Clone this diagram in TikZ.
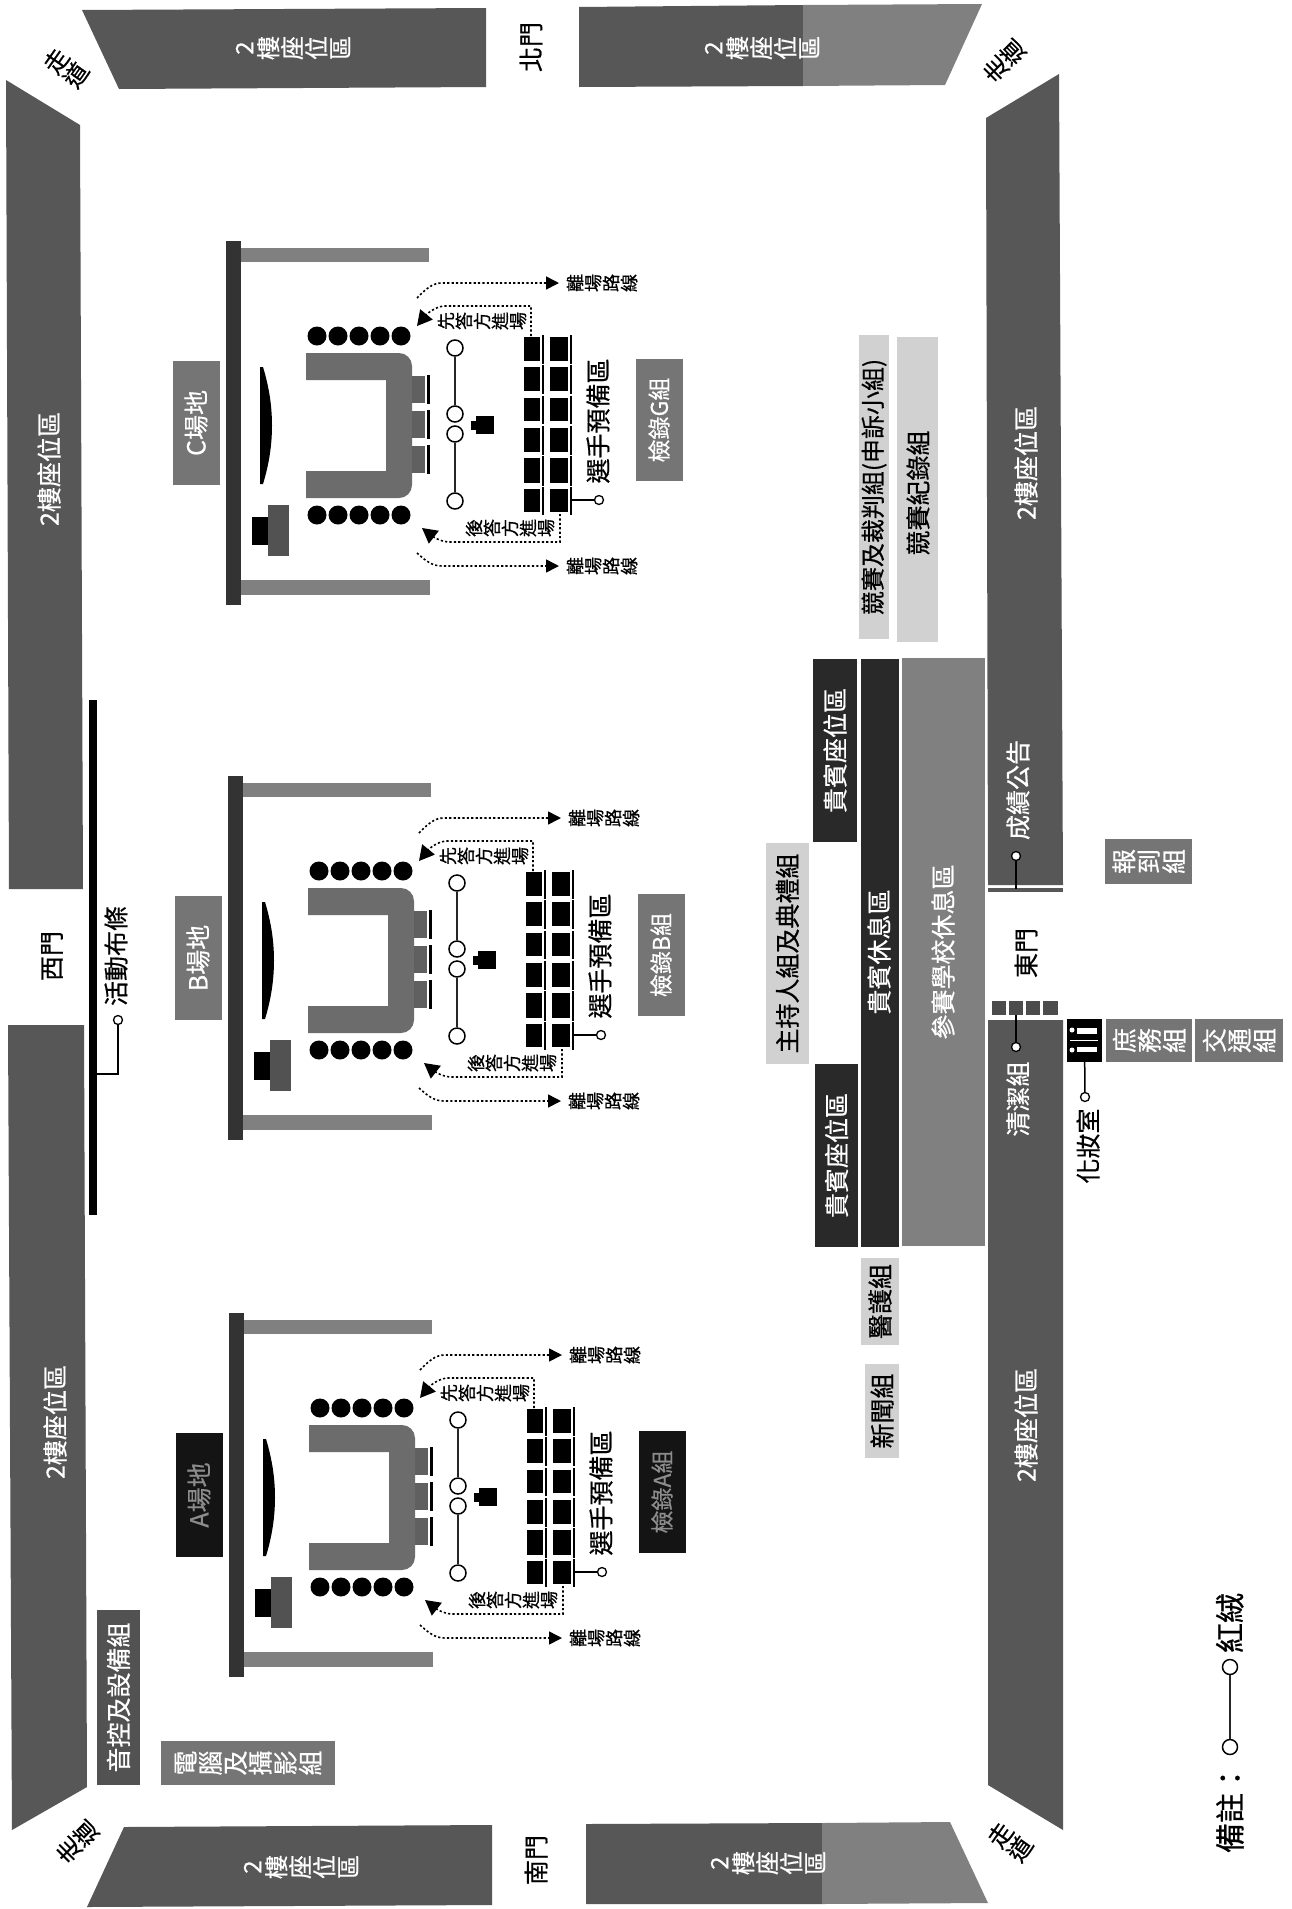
\documentclass[tikz,border=0pt]{standalone}
\usepackage{fontspec}
\usetikzlibrary{arrows.meta}
\newfontfamily\cjk[FakeBold=0.5]{Noto Sans CJK TC}
\newcommand\fs[1]{\cjk\fontsize{#1}{#1}\selectfont}
\definecolor{banddark}{gray}{0.34}
\definecolor{bandlight}{gray}{0.50}
\definecolor{midgray}{gray}{0.46}
\definecolor{armgray}{gray}{0.50}
\definecolor{vipdark}{gray}{0.16}
\definecolor{paleb}{gray}{0.82}
\tikzset{
  txt/.style={rotate=90,inner sep=0pt,align=center,font=\fs{25}},
  wtxt/.style={txt,text=white},
  ring/.style={circle,draw=black,fill=white,line width=1.5pt,inner sep=0pt,minimum size=16pt},
  dotring/.style={circle,draw=black,fill=white,line width=1.3pt,inner sep=0pt,minimum size=9pt},
  stud/.style={circle,fill=black,inner sep=0pt,minimum size=19pt},
  sashline/.style={line width=1.6pt,draw=black!85},
  route/.style={draw=black,line width=1.6pt,dash pattern=on 2.2pt off 2.2pt,-{Triangle[length=13pt,width=13pt]}},
  entry/.style={draw=black,line width=1.6pt,dash pattern=on 2.2pt off 2.2pt,-{Triangle[length=15pt,width=16pt]}},
  lead/.style={draw=black,line width=1.5pt}
}
% #1 x, #2 y, #3 prefix, #4 site text, #5 check text, #6 box fill, #7 text colour
\newcommand\stagemod[7]{%
\begin{scope}[shift={(#1,#2)}]
  \fill[black!80] (0,0) rectangle (15,364);
  \fill[armgray] (15,7) rectangle (203,21);
  \fill[armgray] (15,339) rectangle (204,354);
  \node[fill=#6,minimum width=47pt,minimum height=124pt,inner sep=0pt] (#3site) at (-30,182) {};
  \node[txt,text=#7] at (#3site) {#4};
  \fill[black] (34,126) -- (37,126) .. controls (49,165) and (49,204) .. (37,243) -- (34,243) -- cycle;
  \fill[black] (26,276) rectangle (43,304);
  \fill[midgray!70!black] (42,264) rectangle (63,315);
  \foreach \cx in {91,112,133,154,175}{
    \node[stud] at (\cx,95) {};
    \node[stud] at (\cx,274) {};
  }
  \fill[armgray!85!black] (80,112) [rounded corners=13pt] -- (186,112) -- (186,257) [sharp corners] -- (80,257) -- (80,230) -- (160,230) -- (160,139) -- (80,139) -- cycle;
  \foreach \a/\b in {135/162,170/197,205/232}{
    \fill[armgray!75!black] (186,\a) rectangle (199,\b);
    \fill[black] (201,\a-1) rectangle (204,\b+1);
  }
  \node[ring] (#3r1) at (229,107) {};
  \node[ring] (#3r2) at (229,173) {};
  \node[ring] (#3r3) at (229,193) {};
  \node[ring] (#3r4) at (229,260) {};
  \draw[sashline] (#3r1) -- (#3r2);
  \draw[sashline] (#3r3) -- (#3r4);
  \fill[black] (250,175) rectangle (268,193);
  \fill[black] (245,180) rectangle (250,189);
  \foreach \a/\b in {96/120,126/150,157/180,187/211,217/242,248/271}{
    \fill[black] (298,\a) rectangle (314,\b);
    \fill[black] (324,\a) rectangle (342,\b);
    \fill[black] (316,\a-2) rectangle (318,\b+3);
    \fill[black] (343.5,\a-2) rectangle (345.5,\b+3);
  }
  \coordinate (#3sa) at (345,259);
  \node[dotring] (#3sr) at (373,259) {};
  \draw[lead] (#3sa) -- (#3sr);
  \node[txt] (#3pre) at (372,180) {選手預備區};
  \node[fill=#6,minimum width=47pt,minimum height=122pt,inner sep=0pt] (#3chk) at (433,179) {};
  \node[txt,text=#7,font=\fs{23}] at (#3chk) {#5};
  % exit routes
  \coordinate (#3e1) at (191,57);
  \coordinate (#3e2) at (333,42);
  \coordinate (#3e3) at (191,312);
  \coordinate (#3e4) at (333,325);
  \draw[route] (#3e1) .. controls (200,48) and (206,42) .. (216,42) -- (#3e2);
  \draw[route] (#3e3) .. controls (200,320) and (206,325) .. (216,325) -- (#3e4);
  \node[txt,font=\fs{18}] (#3x1) at (376,42) {離\\場\\路\\線};
  \node[txt,font=\fs{18}] (#3x2) at (376,325) {離\\場\\路\\線};
  % entry routes
  \coordinate (#3f1) at (305,95);
  \coordinate (#3f2) at (191,85);
  \coordinate (#3f3) at (334,273);
  \coordinate (#3f4) at (196,287);
  \draw[entry] (#3f1) -- (305,65) -- (218,65) .. controls (208,66) and (200,74) .. (#3f2);
  \draw[entry] (#3f3) -- (334,301) -- (222,301) .. controls (212,300) and (205,294) .. (#3f4);
  \node[txt,font=\fs{18}] (#3n1) at (256,80) {先\\答\\方\\進\\場};
  \node[txt,font=\fs{18}] (#3n2) at (284,287) {後\\答\\方\\進\\場};
\end{scope}}
\begin{document}
\begin{tikzpicture}[x=1pt,y=-1pt]
\useasboundingbox (0,0) rectangle (1292,1909);
\fill[white] (0,0) rectangle (1292,1909);
% seating bands
\fill[banddark] (82,10) -- (486,8) -- (486,87) -- (119,89) -- cycle;
\fill[banddark] (579,7) -- (803,5) -- (803,86) -- (579,87) -- cycle;
\fill[bandlight] (803,5) -- (982,4) -- (945,85) -- (803,86) -- cycle;
\fill[banddark] (124,1827) -- (492,1825) -- (492,1905) -- (87,1907) -- cycle;
\fill[banddark] (586,1824) -- (822,1823) -- (822,1904) -- (586,1904) -- cycle;
\fill[bandlight] (822,1823) -- (950,1822) -- (988,1903) -- (822,1904) -- cycle;
\fill[banddark] (6,80) -- (80,125) -- (83,889) -- (9,889) -- cycle;
\fill[banddark] (8,1025) -- (84,1025) -- (87,1787) -- (12,1830) -- cycle;
\fill[banddark] (986,118) -- (1059,74) -- (1063,885) -- (988,885) -- cycle;
\fill[banddark] (988,888) rectangle (1063,892);
\fill[banddark] (988,1020) -- (1063,1020) -- (1063,1830) -- (988,1785) -- cycle;
% seat labels
\node[wtxt,font=\fs{24}] (s1) at (293,48) {2\\樓\\座\\位\\區};
\node[wtxt,font=\fs{24}] (s2) at (762,48) {2\\樓\\座\\位\\區};
\node[wtxt,font=\fs{24}] (s3) at (301,1867) {2\\樓\\座\\位\\區};
\node[wtxt,font=\fs{24}] (s4) at (768,1863) {2\\樓\\座\\位\\區};
\node[wtxt] (s5) at (49,469) {2樓座位區};
\node[wtxt] (s6) at (55,1422) {2樓座位區};
\node[wtxt] (s7) at (1026,463) {2樓座位區};
\node[wtxt] (s8) at (1026,1425) {2樓座位區};
% doors and corners
\node[txt] (north) at (531,47) {北門};
\node[txt] (south) at (536,1860) {南門};
\node[txt] (west) at (52,956) {西門};
\node[txt] (east) at (1026,953) {東門};
\node[txt,rotate=-35,font=\fs{24}] (c1) at (66,68) {走\\道};
\node[txt,rotate=45,font=\fs{24}] (c2) at (1004,61) {走\\道};
\node[txt,rotate=-35,font=\fs{24}] (c3) at (1010,1842) {走\\道};
\node[txt,rotate=45,font=\fs{24}] (c4) at (77,1842) {走\\道};
% stage modules
\stagemod{226}{241}{C}{C場地}{檢錄G組}{midgray}{white}
\stagemod{228}{776}{B}{B場地}{檢錄B組}{midgray}{white}
\stagemod{229}{1313}{A}{A場地}{檢錄A組}{black!92}{black!45}
% banner
\fill[black] (89,700) rectangle (97,1215);
\node[txt] (ban) at (116,956) {活動布條};
\node[dotring] (banr) at (118,1020) {};
\coordinate (banc) at (97,1074);
\draw[lead] (banr) |- (banc);
% left groups
\node[fill=midgray!70!black,minimum width=43pt,minimum height=175pt,inner sep=0pt] (g1) at (118.5,1697.5) {};
\node[wtxt] at (g1) {音控及設備組};
\node[fill=midgray,minimum width=174pt,minimum height=44pt,inner sep=0pt] (g2) at (248,1763) {};
\node[wtxt] at (g2) {電\\腦\\及\\攝\\影\\組};
% centre blocks
\node[fill=paleb,minimum width=43pt,minimum height=221pt,inner sep=0pt] (g3) at (787.5,953.5) {};
\node[txt] at (g3) {主持人組及典禮組};
\node[fill=vipdark,minimum width=44pt,minimum height=183pt,inner sep=0pt] (g4) at (835,750.5) {};
\node[wtxt] at (g4) {貴賓座位區};
\node[fill=vipdark,minimum width=43pt,minimum height=183pt,inner sep=0pt] (g5) at (836.5,1155.5) {};
\node[wtxt] at (g5) {貴賓座位區};
\node[fill=vipdark,minimum width=38pt,minimum height=588pt,inner sep=0pt] (g6) at (880,953) {};
\node[wtxt] at (879,952) {貴賓休息區};
\node[fill=bandlight,minimum width=83pt,minimum height=588pt,inner sep=0pt] (g7) at (943.5,952) {};
\node[wtxt] at (943,952) {參賽學校休息區};
% right pale blocks
\node[fill=paleb,minimum width=30pt,minimum height=304pt,inner sep=0pt] (g8) at (874,487) {};
\node[txt,font=\fs{24}] at (g8) {競賽及裁判組(申訴小組)};
\node[fill=paleb,minimum width=41pt,minimum height=305pt,inner sep=0pt] (g9) at (917.5,489.5) {};
\node[txt] at (918,493) {競賽紀錄組};
\node[fill=paleb,minimum width=38pt,minimum height=87pt,inner sep=0pt] (g10) at (880,1301.5) {};
\node[txt] at (g10) {醫護組};
\node[fill=paleb,minimum width=34pt,minimum height=94pt,inner sep=0pt] (g11) at (882,1411) {};
\node[txt] at (g11) {新聞組};
% east side
\node[wtxt] (res) at (1018,790) {成績公告};
\node[dotring] (resr) at (1016,856) {};
\coordinate (resb) at (1016,889);
\draw[lead] (resr) -- (resb);
\node[wtxt] (cln) at (1018,1099) {清潔組};
\node[dotring] (clnr) at (1016,1047) {};
\foreach \a/\b in {992/1006,1009/1023,1026/1040,1043/1058}{
  \fill[black!70] (\a,1001) rectangle (\b,1015);
}
\coordinate (clnt) at (1016,1015);
\draw[lead] (clnr) -- (clnt);
\node[fill=midgray,minimum width=87pt,minimum height=45pt,inner sep=0pt] (g12) at (1148.5,861.5) {};
\node[wtxt] at (g12) {報\\到\\組};
\node[fill=midgray,minimum width=86pt,minimum height=43pt,inner sep=0pt] (g13) at (1149,1040.5) {};
\node[wtxt] at (g13) {庶\\務\\組};
\node[fill=midgray,minimum width=88pt,minimum height=43pt,inner sep=0pt] (g14) at (1239,1040.5) {};
\node[wtxt] at (g14) {交\\通\\組};
% dressing room
\node[fill=black,minimum width=35pt,minimum height=43pt,inner sep=0pt] (room) at (1084.5,1040.5) {};
\fill[white] (1072,1030) circle (2.5pt);
\fill[white] (1072,1050) circle (2.5pt);
\fill[white] (1077,1028) rectangle (1097,1034);
\fill[white] (1077,1047) rectangle (1097,1052);
\fill[white] (1070,1040) rectangle (1098,1041);
\node[dotring] (roomr) at (1085,1097) {};
\draw[lead] (room) -- (roomr);
\node[txt] (roomt) at (1088,1146) {化妝室};
% legend
\node[txt,font=\fs{30}] (leg1) at (1230,1808) {備註：};
\node[ring,minimum size=15pt] (leg2) at (1230,1747) {};
\node[ring,minimum size=15pt] (leg3) at (1230,1667) {};
\draw[sashline] (leg2) -- (leg3);
\node[txt,font=\fs{30}] (leg4) at (1230,1623) {紅絨};
\end{tikzpicture}
\end{document}
